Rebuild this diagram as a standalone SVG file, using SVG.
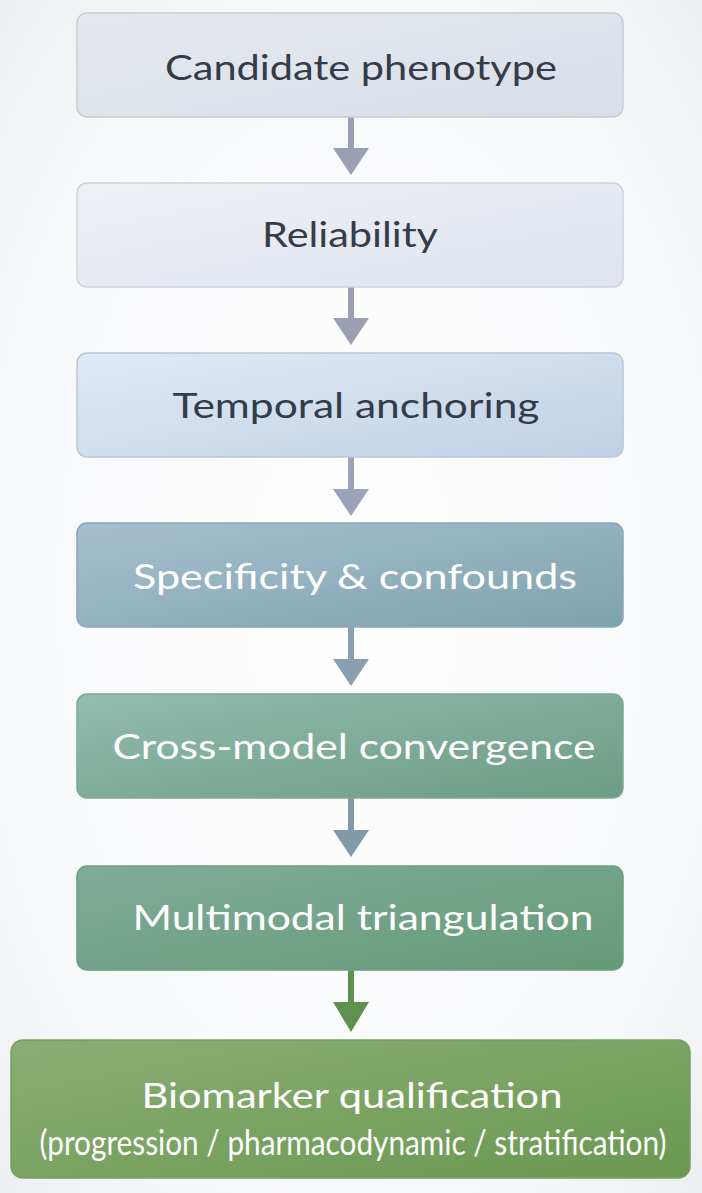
<svg xmlns="http://www.w3.org/2000/svg" width="702" height="1193" viewBox="0 0 702 1193">
<defs>
<radialGradient id="bg" cx="0.5" cy="0.5" r="0.75">
<stop offset="0" stop-color="#ffffff"/><stop offset="0.7" stop-color="#f7f8fa"/><stop offset="1" stop-color="#e9ecef"/>
</radialGradient>
<linearGradient id="g1" x1="0" y1="0" x2="1" y2="1"><stop offset="0" stop-color="#e6e9ef"/><stop offset="1" stop-color="#d9dee7"/></linearGradient>
<linearGradient id="g2" x1="0" y1="0" x2="1" y2="1"><stop offset="0" stop-color="#eef0f5"/><stop offset="1" stop-color="#dfe4ee"/></linearGradient>
<linearGradient id="g3" x1="0" y1="0" x2="1" y2="1"><stop offset="0" stop-color="#e1eaf5"/><stop offset="1" stop-color="#bfd1e4"/></linearGradient>
<linearGradient id="g4" x1="0" y1="0" x2="1" y2="1"><stop offset="0" stop-color="#a7bfcf"/><stop offset="1" stop-color="#7ea3ad"/></linearGradient>
<linearGradient id="g5" x1="0" y1="0" x2="1" y2="1"><stop offset="0" stop-color="#93bcb0"/><stop offset="1" stop-color="#6c9c84"/></linearGradient>
<linearGradient id="g6" x1="0" y1="0" x2="1" y2="1"><stop offset="0" stop-color="#80ac9a"/><stop offset="1" stop-color="#659a78"/></linearGradient>
<linearGradient id="g7" x1="0" y1="0" x2="1" y2="1"><stop offset="0" stop-color="#8aae74"/><stop offset="1" stop-color="#6b9851"/></linearGradient>
</defs>
<style>
.box{stroke-width:1.5}
.lbl{font-family:Lato,"Open Sans","Liberation Sans",sans-serif;font-size:34px;text-anchor:middle}
.dark{fill:#343c4a}
.light{fill:#ffffff}
</style>
<rect x="0" y="0" width="702" height="1193" fill="url(#bg)"/>
<g id="connectors">
<path d="M348,117 L354,117 L354,148 L369,148 L351,175 L333,148 L348,148 Z" fill="#9aa0b2"/>
<path d="M348,287 L354,287 L354,318 L369,318 L351,345 L333,318 L348,318 Z" fill="#9aa0b2"/>
<path d="M348,457 L354,457 L354,489 L369,489 L351,516 L333,489 L348,489 Z" fill="#9ba3b8"/>
<path d="M348,627 L354,627 L354,659 L369,659 L351,686 L333,659 L348,659 Z" fill="#8a9fb0"/>
<path d="M348,798 L354,798 L354,830 L369,830 L351,857 L333,830 L348,830 Z" fill="#8299a8"/>
<path d="M348,970 L354,970 L354,1002 L369,1002 L351,1032 L333,1002 L348,1002 Z" fill="#5e9150"/>
</g>
<g id="n1"><rect class="box" x="77" y="13" width="546" height="104" rx="10" fill="url(#g1)" stroke="#c7ccd6"/><text class="lbl dark" x="361" y="80" textLength="392" lengthAdjust="spacingAndGlyphs">Candidate phenotype</text></g>
<g id="n2"><rect class="box" x="77" y="183" width="546" height="104" rx="10" fill="url(#g2)" stroke="#cdd2dc"/><text class="lbl dark" x="350" y="247" textLength="176" lengthAdjust="spacingAndGlyphs">Reliability</text></g>
<g id="n3"><rect class="box" x="77" y="353" width="546" height="104" rx="10" fill="url(#g3)" stroke="#b8c6d8"/><text class="lbl dark" x="356" y="418" textLength="367" lengthAdjust="spacingAndGlyphs">Temporal anchoring</text></g>
<g id="n4"><rect class="box" x="77" y="523" width="546" height="104" rx="10" fill="url(#g4)" stroke="#8aa6b4"/><text class="lbl light" x="355" y="589" textLength="444" lengthAdjust="spacingAndGlyphs">Specificity &amp; confounds</text></g>
<g id="n5"><rect class="box" x="77" y="694" width="546" height="104" rx="10" fill="url(#g5)" stroke="#7ea896"/><text class="lbl light" x="354" y="759" textLength="483" lengthAdjust="spacingAndGlyphs">Cross-model convergence</text></g>
<g id="n6"><rect class="box" x="77" y="866" width="546" height="104" rx="10" fill="url(#g6)" stroke="#6f9e82"/><text class="lbl light" x="363" y="930" textLength="461" lengthAdjust="spacingAndGlyphs">Multimodal triangulation</text></g>
<g id="n7"><rect class="box" x="11" y="1040" width="679" height="138" rx="12" fill="url(#g7)" stroke="#779f5f"/><text class="lbl light" x="352" y="1108" font-size="37" textLength="421" lengthAdjust="spacingAndGlyphs">Biomarker qualification</text><text class="lbl light" x="353" y="1155" font-size="27" textLength="627" lengthAdjust="spacingAndGlyphs">(progression / pharmacodynamic / stratification)</text></g>
</svg>
